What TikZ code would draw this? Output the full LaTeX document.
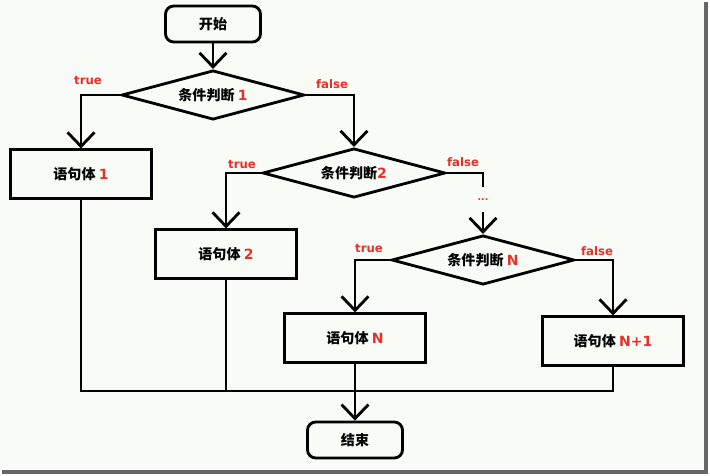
\documentclass[tikz,border=0pt]{standalone}
\usepackage{fontspec}
\setmainfont{DejaVu Sans}
\newfontfamily\cjk{Noto Sans CJK SC}
\usetikzlibrary{shapes.geometric,arrows.meta}
\definecolor{hired}{RGB}{232,48,40}
\definecolor{paper}{RGB}{249,251,246}
\newcommand\num[1]{{\normalfont\bfseries\color{hired}#1}}

\begin{document}
\begin{tikzpicture}[x=0.03cm,y=-0.03cm,line width=2.4pt,
        every node/.style={font=\cjk\bfseries\fontsize{12}{14}\selectfont},
        proc/.style={draw,rectangle,minimum width=4.24cm,minimum height=1.45cm},
        term/.style={draw,rectangle,rounded corners=7pt,minimum width=2.85cm,minimum height=1.08cm},
        test/.style={draw,diamond,aspect=3.7,inner sep=0pt,minimum width=5.48cm,minimum height=1.48cm},
        flow/.style={-{Straight Barb[length=12pt,width=23pt]}},
        yes/.style={font=\bfseries\fontsize{10}{12}\selectfont,text=hired}]
            \useasboundingbox (0,0) rectangle (710,475);
            \fill[paper] (0,0) rectangle (704,470);
            \fill[black!60] (704,2) rectangle (708,474);
            \fill[black!60] (2,470) rectangle (708,474);

            \node[term] (start) at (213,24) {开始};
            \node[test] (d1) at (213,95) {条件判断 \num{1}};
            \node[proc] (b1) at (81,174) {语句体 \num{1}};
            \node[test] (d2) at (354,173) {条件判断\num{2}};
            \node[proc] (b2) at (226,254) {语句体 \num{2}};
            \node[font=\bfseries\fontsize{8}{9}\selectfont,text=hired,minimum height=0.69cm,inner sep=0pt] (dots) at (483,199.5) {...};
            \node[test] (dN) at (483,260) {条件判断 \num{N}};
            \node[proc] (bN) at (355,338) {语句体 \num{N}};
            \node[proc] (bN1) at (613,341) {语句体 \num{N+1}};
            \node[term] (end) at (355,440) {结束};
            \coordinate (m) at (355,391);

            \node[yes] (t1) at (88,80) {true};
            \node[yes] (f1) at (332,84) {false};
            \node[yes] (t2) at (242,164) {true};
            \node[yes] (f2) at (463,162) {false};
            \node[yes] (tN) at (369,248) {true};
            \node[yes] (fN) at (597,251) {false};

            \draw[flow] (start) -- (d1);
            \draw[flow] (d1.west) -| (b1);
            \draw[flow] (d1.east) -| (d2);
            \draw[flow] (d2.west) -| (b2);
            \draw (d2.east) -| (dots);
            \draw[flow] (dots) -- (dN);
            \draw[flow] (dN.west) -| (bN);
            \draw[flow] (dN.east) -| (bN1);
            \draw (b1) |- (m) -| (bN1);
            \draw (b2) -- (b2 |- m);
            \draw[flow] (bN) -- (end);
        \end{tikzpicture}
\end{document}
